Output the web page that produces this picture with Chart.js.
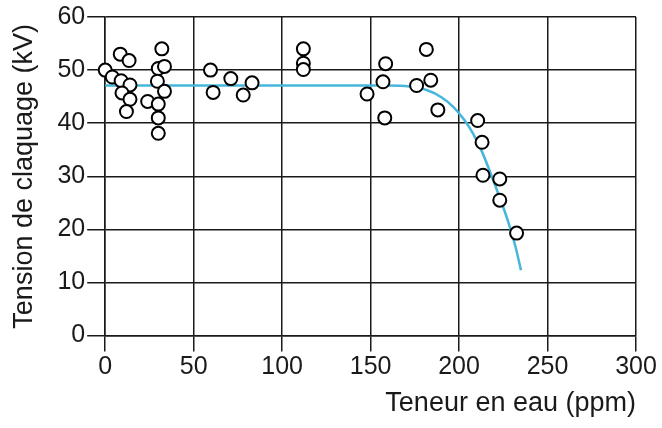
<!DOCTYPE html>
<html>
<head>
<meta charset="utf-8">
<script src="https://cdn.jsdelivr.net/npm/chart.js@4/dist/chart.umd.min.js"></script>
<style>
  html, body { margin: 0; padding: 0; background: #fff; }
  #wrap { width: 662px; height: 428px; position: relative; }
</style>
</head>
<body>
<div id="wrap"><canvas id="chart"></canvas></div>
<script>
// mesures (teneur en eau ppm / tension kV)
var eauPpm = [0, 4, 8.5, 13.5, 9, 14, 9.5, 14, 12, 32, 30, 33.5, 29.5, 33.5, 24, 30, 30, 30,
              59.5, 61, 71, 83, 78, 112, 112, 112,
              148, 158.5, 157, 158, 181.5, 176, 184, 188,
              210.5, 213, 213.5, 223, 223, 232.5];
var tensionKv = [50, 48.7, 53, 51.8, 48, 47.2, 45.7, 44.5, 42.2, 54, 50.3, 50.7, 47.9, 46, 44.1, 43.6, 41, 38.1,
                 50, 45.8, 48.4, 47.6, 45.3, 54, 51.3, 50.1,
                 45.5, 51.2, 47.8, 41, 53.9, 47.1, 48.1, 42.5,
                 40.5, 36.4, 30.2, 29.5, 25.5, 19.3];
// courbe moyenne
var courbeX = [0, 160, 172, 182, 190, 197, 203, 208, 213, 218, 223, 228, 232, 235];
var courbeY = [47.1, 47.1, 46.9, 46.2, 44.9, 43, 40.6, 38, 34.6, 30.4, 26, 21.2, 16.6, 12.3];
var xTicks = [0, 50, 100, 150, 200, 250, 300];
var yTicks = [0, 10, 20, 30, 40, 50, 60];

var ctx = document.getElementById("chart").getContext("2d");
var points = eauPpm.map(function(x, i) { return {x: x, y: tensionKv[i]}; });
var curve = courbeX.map(function(x, i) { return {x: x, y: courbeY[i]}; });

var font = "'Liberation Sans', Arial, sans-serif";
var ink = "#1a1a1a";

var chart = new Chart(ctx, {
    type: "scatter",
    data: {
        datasets: [{
            data: points,
            order: 0,
            pointRadius: 6.5,
            pointBackgroundColor: "#fff",
            pointBorderColor: "#000",
            pointBorderWidth: 2,
            clip: false
        }, {
            data: curve,
            order: 1,
            showLine: true,
            pointRadius: 0,
            borderColor: "#45b6dc",
            borderWidth: 2.5,
            cubicInterpolationMode: "monotone",
            clip: false
        }]
    },
    options: {
        responsive: true,
        maintainAspectRatio: false,
        animation: false,
        layout: { padding: { top: 0, right: 26, bottom: 8, left: 8 } },
        plugins: { legend: { display: false }, tooltip: { enabled: false } },
        scales: {
            x: {
                type: "linear", min: 0, max: 300,
                afterBuildTicks: function(axis) { axis.ticks = xTicks.map(function(v) { return {value: v}; }); },
                grid: { color: ink, lineWidth: 1.5, tickLength: 16 },
                border: { color: ink, width: 1.5 },
                ticks: { color: ink, font: { family: font, size: 25 }, padding: 1, maxRotation: 0 },
                title: { display: true, text: "Teneur en eau (ppm)", align: "end", color: ink,
                         font: { family: font, size: 27 }, padding: { top: 4, bottom: 0 } }
            },
            y: {
                type: "linear", min: 0, max: 60,
                afterBuildTicks: function(axis) { axis.ticks = yTicks.map(function(v) { return {value: v}; }); },
                grid: { color: ink, lineWidth: 1.5, tickLength: 18 },
                border: { color: ink, width: 1.5 },
                ticks: { color: ink, font: { family: font, size: 25 }, padding: 2 },
                title: { display: true, text: "Tension de claquage (kV)", color: ink,
                         font: { family: font, size: 27 }, padding: { top: 0, bottom: 15 } }
            }
        }
    }
});
</script>
</body>
</html>
